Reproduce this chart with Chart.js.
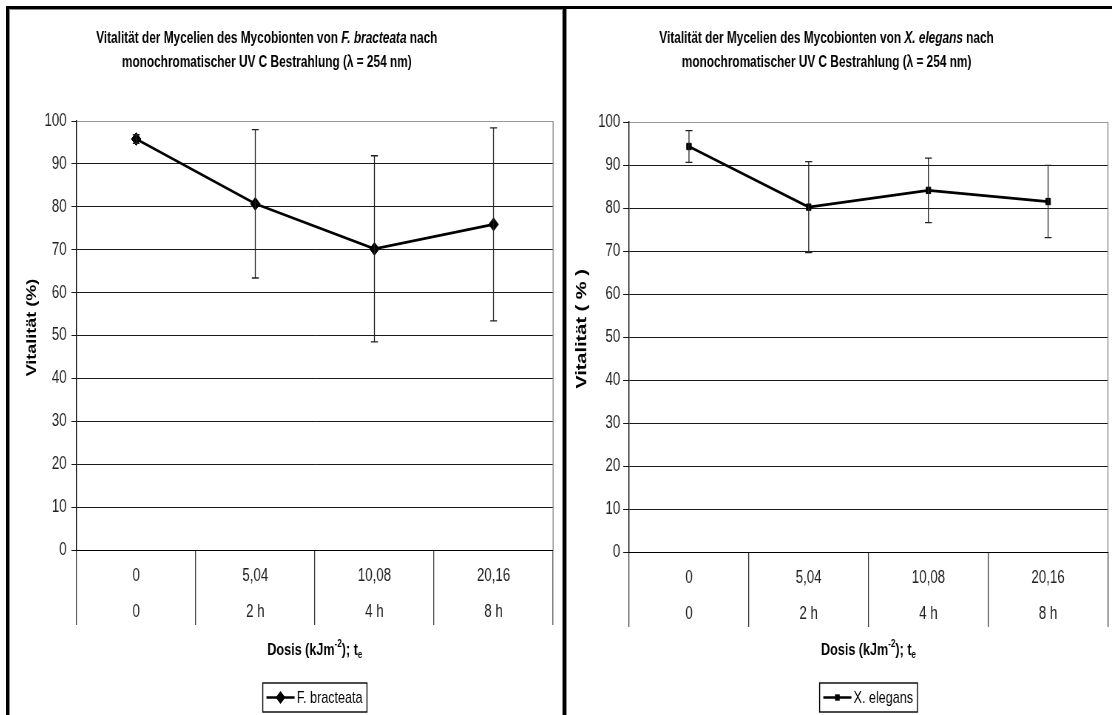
<!DOCTYPE html>
<html lang="de">
<head>
<meta charset="utf-8">
<title>Vitalität der Mycelien nach UV C Bestrahlung</title>
<script src="https://cdn.jsdelivr.net/npm/chart.js@4.4.1/dist/chart.umd.min.js"></script>
<style>
  html, body { margin: 0; padding: 0; background: #fff; }
  #blatt { position: relative; width: 1112px; height: 715px; overflow: hidden; background: #fff; }
  .balken { position: absolute; background: #000; }
  .linie { position: absolute; background: #8a8a8a; }
  canvas { position: absolute; top: 10px; }
</style>
</head>
<body>
<div id="blatt">
  <div class="balken" style="left:6px;top:6px;width:3px;height:709px"></div>
  <div class="balken" style="left:6px;top:6px;width:1106px;height:3px"></div>
  <div class="balken" style="left:563px;top:6px;width:3px;height:709px"></div>
  <div class="linie" style="left:9px;top:9px;width:1px;height:706px"></div>
  <div class="linie" style="left:9px;top:9px;width:553px;height:1px"></div>
  <div class="linie" style="left:562px;top:9px;width:1px;height:706px"></div>
  <div class="linie" style="left:566px;top:9px;width:1px;height:706px"></div>
  <!-- Zeichenfläche intern breiter, per CSS auf die schmale Darstellung gestaucht -->
  <canvas id="links" width="746" height="705" style="left:10px;width:552px;height:705px"></canvas>
  <canvas id="rechts" width="737" height="705" style="left:567px;width:545px;height:705px"></canvas>
</div>
<script>
// Kategorien: Dosis (kJ/m²) und Bestrahlungszeit
const dosis = ['0', '5,04', '10,08', '20,16'];
const zeit = ['0', '2 h', '4 h', '8 h'];

// Vitalität in % mit Standardabweichung
const vitalFB = [95.8, 80.7, 70.2, 75.9];
const fehlerFB = [1.0, 17.3, 21.7, 22.5];
const vitalXE = [94.3, 80.2, 84.1, 81.5];
const fehlerXE = [3.7, 10.6, 7.5, 8.4];

// y-Achse
const yMin = 0;
const yMax = 100;
const yStep = 10;

const kategorien = dosis.map((d, i) => [d, zeit[i]]);
const SCHRIFT = '"Liberation Sans", Arial, Helvetica, sans-serif';

function schrift(teil, groesse, fett) {
  let g = groesse;
  if (teil.hoch || teil.tief) g = Math.round(groesse * 0.62);
  return (teil.kursiv ? 'italic ' : '') + (fett ? 'bold ' : '') + g + 'px ' + SCHRIFT;
}

// Zeile aus mehreren Textteilen (kursiv, hoch-/tiefgestellt) zentriert ausgeben
function textZeile(ctx, teile, mitteX, y, groesse, fett) {
  const breiten = teile.map(t => {
    ctx.font = schrift(t, groesse, fett);
    return ctx.measureText(t.text).width;
  });
  const gesamt = breiten.reduce((a, b) => a + b, 0);
  let x = mitteX - gesamt / 2;
  ctx.textAlign = 'left';
  ctx.textBaseline = 'middle';
  teile.forEach((t, i) => {
    ctx.font = schrift(t, groesse, fett);
    let dy = 0;
    if (t.hoch) dy = -groesse * 0.38;
    if (t.tief) dy = groesse * 0.28;
    ctx.fillText(t.text, x, y + dy);
    x += breiten[i];
  });
}

function marker(ctx, art, x, y, r) {
  ctx.beginPath();
  if (art === 'rectRot') {
    ctx.moveTo(x, y - r);
    ctx.lineTo(x + r, y);
    ctx.lineTo(x, y + r);
    ctx.lineTo(x - r, y);
  } else {
    const h = r * Math.SQRT1_2;
    ctx.rect(x - h, y - h, 2 * h, 2 * h);
  }
  ctx.closePath();
  ctx.fill();
}

// Titel, Achsentitel, Legende und Rahmen der Zeichenfläche
const beschriftung = {
  id: 'beschriftung',
  beforeDatasetsDraw(chart) {
    const ctx = chart.ctx;
    const a = chart.chartArea;
    ctx.save();
    ctx.strokeStyle = '#8a8a8a';
    ctx.lineWidth = 1.4;
    ctx.beginPath();
    ctx.moveTo(a.right, a.top);
    ctx.lineTo(a.right, a.bottom);
    ctx.stroke();
    ctx.restore();
  },
  afterDraw(chart, args, o) {
    const ctx = chart.ctx;
    const a = chart.chartArea;
    const mitte = (a.left + a.right) / 2;
    const ds = chart.data.datasets[0];
    ctx.save();
    ctx.fillStyle = '#000';

    // Diagrammtitel
    o.titel.forEach((zeile, i) => textZeile(ctx, zeile, o.titelX, 29 + i * 24, 16, true));

    // y-Achsentitel
    ctx.save();
    ctx.translate(o.yTitelX, (a.top + a.bottom) / 2 - 8);
    ctx.rotate(-Math.PI / 2);
    textZeile(ctx, [{ text: o.yTitel }], 0, 0, o.yTitelGroesse, true);
    ctx.restore();

    // x-Achsentitel
    textZeile(ctx, [
      { text: 'Dosis (kJm' }, { text: '-2', hoch: true },
      { text: '); t' }, { text: 'e', tief: true }
    ], mitte, 640, 17, true);

    // Legende
    ctx.font = '17px ' + SCHRIFT;
    const tb = ctx.measureText(ds.label).width;
    const lw = 38;
    const bw = 5 + lw + 3 + tb + 6;
    const bx = mitte - bw / 2;
    const by = 673;
    const bh = 29;
    ctx.strokeStyle = '#000';
    ctx.lineWidth = 1.4;
    ctx.strokeRect(bx, by, bw, bh);
    const ly = by + bh / 2;
    ctx.lineWidth = 2.6;
    ctx.beginPath();
    ctx.moveTo(bx + 5, ly);
    ctx.lineTo(bx + 5 + lw, ly);
    ctx.stroke();
    marker(ctx, ds.pointStyle, bx + 5 + lw / 2, ly, ds.pointRadius);
    ctx.textAlign = 'left';
    ctx.textBaseline = 'middle';
    ctx.fillText(ds.label, bx + 5 + lw + 3, ly + 1);
    ctx.restore();
  }
};

// Fehlerbalken (± Standardabweichung) über die y-Skala
const fehlerbalken = {
  id: 'fehlerbalken',
  afterDatasetsDraw(chart) {
    const ctx = chart.ctx;
    const y = chart.scales.y;
    ctx.save();
    ctx.strokeStyle = '#222';
    ctx.lineWidth = 1.3;
    chart.data.datasets.forEach((ds, di) => {
      chart.getDatasetMeta(di).data.forEach((pt, i) => {
        const v = ds.data[i];
        const f = ds.fehler[i];
        const oben = y.getPixelForValue(v + f);
        const unten = y.getPixelForValue(v - f);
        const k = 4.7;
        ctx.beginPath();
        ctx.moveTo(pt.x, oben);
        ctx.lineTo(pt.x, unten);
        ctx.moveTo(pt.x - k, oben);
        ctx.lineTo(pt.x + k, oben);
        ctx.moveTo(pt.x - k, unten);
        ctx.lineTo(pt.x + k, unten);
        ctx.stroke();
      });
    });
    ctx.restore();
  }
};

function diagramm(id, label, werte, fehler, stil, radius, p) {
  const ctx = document.getElementById(id).getContext('2d');
  return new Chart(ctx, {
    type: 'line',
    data: {
      labels: kategorien,
      datasets: [{
        label: label,
        data: werte,
        fehler: fehler,
        borderColor: '#000',
        borderWidth: 2.8,
        tension: 0,
        pointStyle: stil,
        pointRadius: radius,
        pointBackgroundColor: '#000',
        pointBorderColor: '#000',
        pointBorderWidth: 1
      }]
    },
    options: {
      responsive: false,
      devicePixelRatio: 1,
      animation: false,
      events: [],
      layout: { padding: { top: p.oben, bottom: p.unten, left: 0, right: p.rechts } },
      scales: {
        x: {
          offset: true,
          afterFit: s => { s.height = 85; },
          border: { color: '#000', width: 1 },
          grid: {
            offset: true,
            drawOnChartArea: false,
            tickLength: 75,
            color: '#3a3a3a',
            lineWidth: 1.3
          },
          ticks: {
            autoSkip: false,
            maxRotation: 0,
            padding: -67,
            color: '#222',
            font: { family: SCHRIFT, size: 18, lineHeight: 2 }
          }
        },
        y: {
          min: yMin,
          max: yMax,
          afterFit: s => { s.width = p.yBreite; },
          border: { color: '#000', width: 1.4 },
          grid: {
            color: c => (c.tick && c.tick.value === yMax ? '#9a9a9a' : '#1a1a1a'),
            tickColor: '#1a1a1a',
            tickLength: p.tick,
            lineWidth: 1
          },
          ticks: {
            stepSize: yStep,
            padding: p.abstand,
            color: '#222',
            font: { family: SCHRIFT, size: 18 }
          }
        }
      },
      plugins: {
        legend: { display: false },
        title: { display: false },
        tooltip: { enabled: false },
        beschriftung: p.text
      }
    },
    plugins: [beschriftung, fehlerbalken]
  });
}

diagramm('links', 'F. bracteata', vitalFB, fehlerFB, 'rectRot', 6.5, {
  oben: 111, unten: 80, rechts: 12, yBreite: 90, tick: 7, abstand: 6.5,
  text: {
    titel: [
      [{ text: 'Vitalität der Mycelien des Mycobionten von ' }, { text: 'F. bracteata', kursiv: true }, { text: ' nach' }],
      [{ text: 'monochromatischer UV C Bestrahlung (λ = 254 nm)' }]
    ],
    titelX: 347,
    yTitel: 'Vitalität (%)',
    yTitelX: 30,
    yTitelGroesse: 18
  }
});

diagramm('rechts', 'X. elegans', vitalXE, fehlerXE, 'rect', 4.5, {
  oben: 112, unten: 78, rechts: 2, yBreite: 84, tick: 8, abstand: 4,
  text: {
    titel: [
      [{ text: 'Vitalität der Mycelien des Mycobionten von ' }, { text: 'X. elegans', kursiv: true }, { text: ' nach' }],
      [{ text: 'monochromatischer UV C Bestrahlung (λ = 254 nm)' }]
    ],
    titelX: 351,
    yTitel: 'Vitalität ( % )',
    yTitelX: 20,
    yTitelGroesse: 20
  }
});
</script>
</body>
</html>
